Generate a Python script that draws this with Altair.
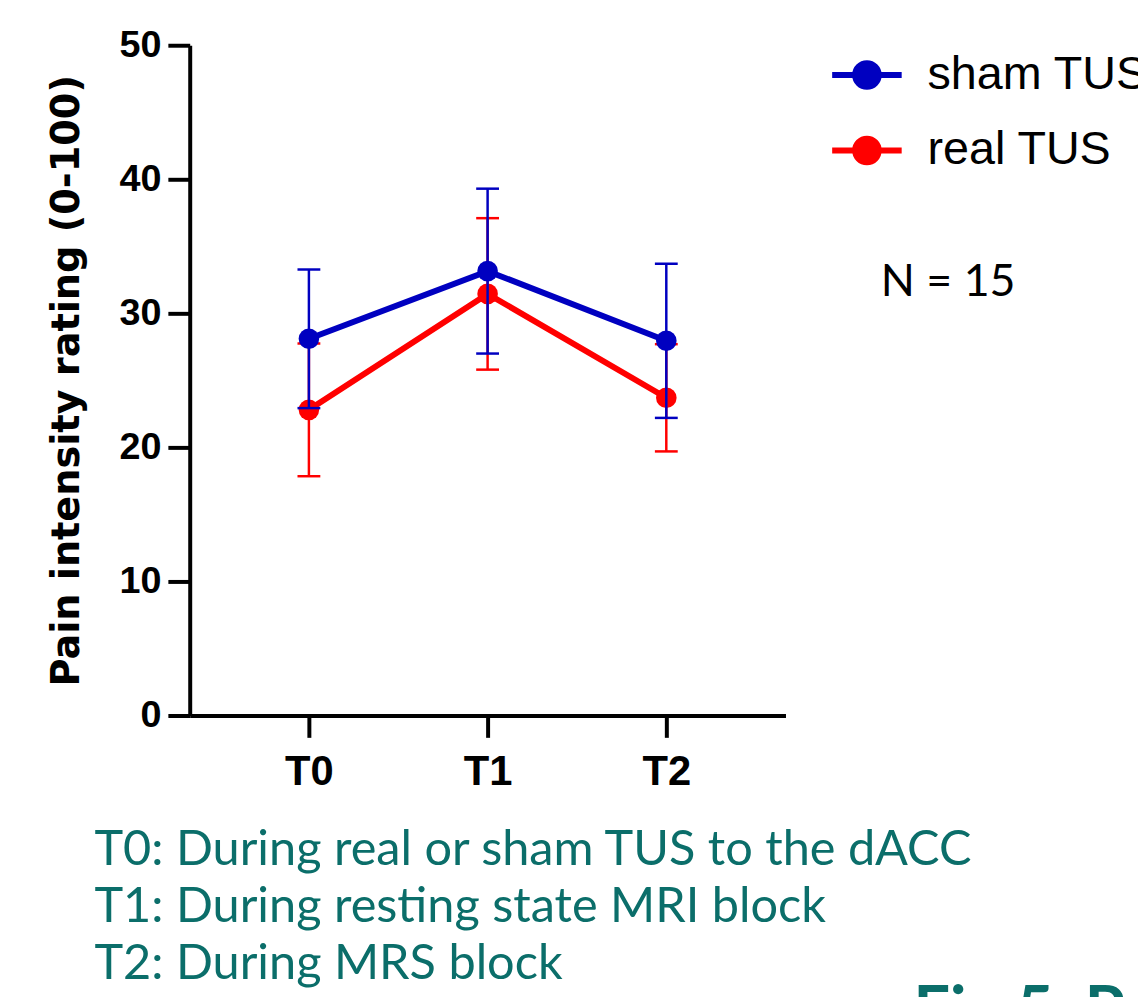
import altair as alt
import pandas as pd

times = ["T0", "T1", "T2"]
groups = ["sham TUS", "real TUS"]
colors = ["#0000C0", "#FF0000"]
sham_mean = [28.1, 33.15, 27.95]
sham_sem = [5.17, 6.15, 5.75]
real_mean = [22.8, 31.45, 23.7]
real_sem = [4.95, 5.65, 4.0]

n_label = "N = 15"
notes = [
    "T0: During real or sham TUS to the dACC",
    "T1: During resting state MRI block",
    "T2: During MRS block",
]
fig_label = "Fig 5. Pain"

rows = []
for g, means, sems in [("sham TUS", sham_mean, sham_sem), ("real TUS", real_mean, real_sem)]:
    for t, m, s in zip(times, means, sems):
        rows.append({"time": t, "group": g, "mean": m, "lower": m - s, "upper": m + s})
df = pd.DataFrame(rows)

W, H = 600, 675
PL, PT = 183, 34

xscale = alt.Scale(type="point", domain=times, padding=0.667)
yscale = alt.Scale(domain=[0, 50])
cscale = alt.Scale(domain=groups, range=colors)

sym = "M-1,0L1,0M0.34,0A0.34,0.34,0,1,1,-0.34,0A0.34,0.34,0,1,1,0.34,0Z"
leg = alt.Legend(
    title=None, orient="none", legendX=644, legendY=-8, padding=0,
    symbolType=sym, symbolSize=4900, symbolStrokeWidth=6, symbolOpacity=1,
    labelFont="Liberation Sans", labelFontSize=47, labelOffset=23,
    labelColor="black", rowPadding=14, labelLimit=400,
)

xenc = alt.X("time:N", scale=xscale, title=None,
             axis=alt.Axis(labelAngle=0, labelFont="Liberation Sans", labelFontWeight="bold",
                           labelFontSize=42, labelColor="black", labelPadding=14,
                           domainWidth=4, domainColor="black", tickWidth=4, tickColor="black",
                           tickSize=22, grid=False))

base = alt.Chart(df)
layers = []
for g, c in [("real TUS", "#FF0000"), ("sham TUS", "#0000C0")]:
    b = base.transform_filter(alt.datum.group == g)
    rule = b.mark_rule(strokeWidth=2.5, color=c).encode(
        x=xenc, y=alt.Y("lower:Q", scale=yscale), y2="upper:Q")
    cap_lo = b.mark_tick(thickness=2.5, size=23, color=c, opacity=1).encode(
        x=xenc, y=alt.Y("lower:Q", scale=yscale))
    cap_hi = b.mark_tick(thickness=2.5, size=23, color=c, opacity=1).encode(
        x=xenc, y=alt.Y("upper:Q", scale=yscale))
    line = b.mark_line(strokeWidth=6, color=c).encode(
        x=xenc, y=alt.Y("mean:Q", scale=yscale))
    pts = b.mark_point(filled=True, size=430, opacity=1, strokeWidth=0).encode(
        x=xenc,
        y=alt.Y("mean:Q", scale=yscale),
        fill=alt.Fill("group:N", scale=cscale, legend=leg),
        stroke=alt.Stroke("group:N", scale=cscale, legend=leg),
    )
    layers += [rule, cap_lo, cap_hi, line, pts]

yaxis_layer = base.mark_point(opacity=0).encode(
    x=xenc,
    y=alt.Y("mean:Q", scale=yscale, title="Pain intensity rating (0-100)",
            axis=alt.Axis(values=[0, 10, 20, 30, 40, 50], labelFont="Liberation Sans",
                          labelFontWeight="bold", labelFontSize=38, labelColor="black",
                          labelPadding=7, titleFont="DejaVu Sans", titleFontWeight="bold",
                          titleFontSize=38.5, titleColor="black", titlePadding=33,
                          domainWidth=4, domainColor="black", tickWidth=4, tickColor="black",
                          tickSize=22, grid=False)),
)

one = pd.DataFrame({"k": [0]})
txt = []
txt.append(alt.Chart(one).mark_text(text=n_label, font="Lato", fontSize=45, color="black",
                                    align="left", baseline="alphabetic").encode(
    x=alt.value(696), y=alt.value(253)))
for i, s in enumerate(notes):
    txt.append(alt.Chart(one).mark_text(text=s, font="Lato", fontSize=49, color="#0B6E6A",
                                        align="left", baseline="alphabetic").encode(
        x=alt.value(-96), y=alt.value(826 + 57 * i)))
txt.append(alt.Chart(one).mark_text(text=fig_label, font="Lato", fontSize=65, fontWeight="bold",
                                    color="#0B6E6A", align="left", baseline="alphabetic").encode(
    x=alt.value(729), y=alt.value(994)))

chart = alt.layer(yaxis_layer, *layers, *txt).properties(
    width=W, height=H,
    padding={"left": PL, "top": PT, "right": 1138 - PL - W, "bottom": 989 - PT - H},
    autosize=alt.AutoSizeParams(type="none"),
).configure(background="white").configure_view(stroke=None)

chart.save("out.html", embed_options={"renderer": "svg", "actions": False})
